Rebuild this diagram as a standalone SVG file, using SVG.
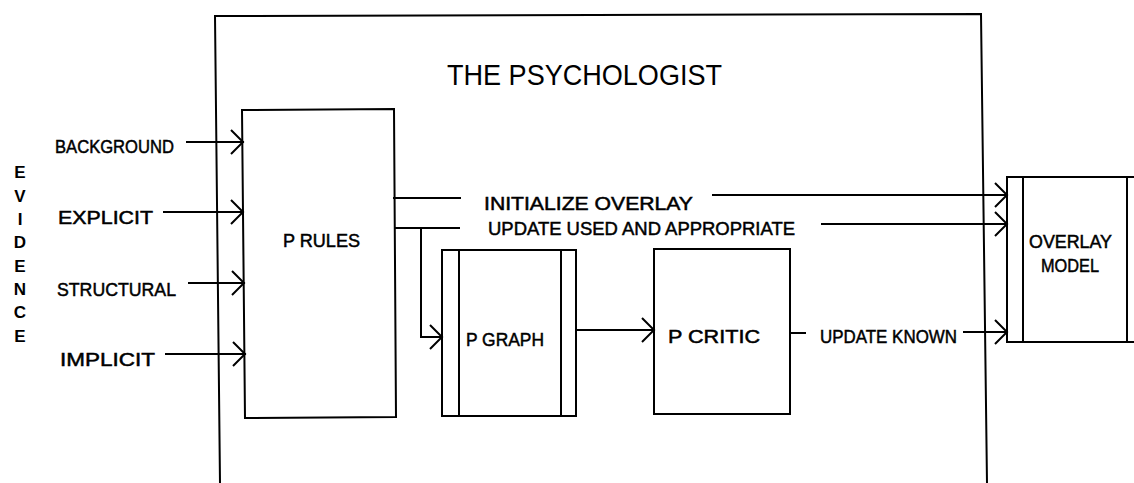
<svg xmlns="http://www.w3.org/2000/svg" width="1134" height="483" viewBox="0 0 1134 483">
  <style>
    .ln { fill: none; stroke: #000; stroke-width: 2; stroke-linecap: square; stroke-linejoin: miter; }
    .box { fill: #fff; stroke: #000; stroke-width: 2; }
    .lbl { font-family: "Liberation Sans", Arial, sans-serif; font-size: 19px; fill: #000; stroke: #000; stroke-width: 0.5; }
    .title { font-family: "Liberation Sans", Arial, sans-serif; font-size: 30px; fill: #000; }
    .ev { font-family: "Liberation Sans", Arial, sans-serif; font-size: 17px; font-weight: bold; fill: #000; text-anchor: middle; }
  </style>
  <defs>
    <marker id="arrow" viewBox="-14 -13 16 26" markerWidth="16" markerHeight="26" refX="0" refY="0" markerUnits="userSpaceOnUse" orient="auto">
      <path d="M -12 -12 L 0 0 L -12 12" fill="none" stroke="#000" stroke-width="2"/>
    </marker>
  </defs>
  <rect width="1134" height="483" fill="#fff"/>

  <!-- enclosing frame of the psychologist module -->
  <g id="psychologist">
    <path class="ln" d="M 220 483 L 215 16 L 981 14 L 987 483"/>
    <text class="title" x="447" y="85" textLength="275" lengthAdjust="spacingAndGlyphs">THE PSYCHOLOGIST</text>
  </g>

  <!-- evidence sources -->
  <g id="evidence">
    <text class="ev" x="20" y="178">E</text>
    <text class="ev" x="20" y="202">V</text>
    <text class="ev" x="20" y="225">I</text>
    <text class="ev" x="20" y="248">D</text>
    <text class="ev" x="20" y="272">E</text>
    <text class="ev" x="20" y="295">N</text>
    <text class="ev" x="20" y="318">C</text>
    <text class="ev" x="20" y="342">E</text>
    <text class="lbl" x="55" y="153" textLength="119" lengthAdjust="spacingAndGlyphs">BACKGROUND</text>
    <text class="lbl" x="58" y="224" textLength="95" lengthAdjust="spacingAndGlyphs">EXPLICIT</text>
    <text class="lbl" x="57" y="296" textLength="119" lengthAdjust="spacingAndGlyphs">STRUCTURAL</text>
    <text class="lbl" x="60" y="366" textLength="95" lengthAdjust="spacingAndGlyphs">IMPLICIT</text>
  </g>

  <g id="p-rules">
    <path class="box" d="M 242 110 L 394 109 L 396 417 L 245 418 Z"/>
    <text class="lbl" x="283" y="247" textLength="77" lengthAdjust="spacingAndGlyphs">P RULES</text>
  </g>

  <g id="p-graph">
    <rect class="box" x="442" y="250" width="134" height="166"/>
    <line class="ln" x1="459" y1="250" x2="459" y2="416"/>
    <line class="ln" x1="561" y1="250" x2="561" y2="416"/>
    <text class="lbl" x="466" y="346" textLength="78" lengthAdjust="spacingAndGlyphs">P GRAPH</text>
  </g>

  <g id="p-critic">
    <rect class="box" x="654" y="249" width="136" height="165"/>
    <text class="lbl" x="668" y="343" textLength="92" lengthAdjust="spacingAndGlyphs">P CRITIC</text>
  </g>

  <g id="overlay-model">
    <path class="ln" d="M 1134 177 L 1007 177 L 1007 342 L 1134 342"/>
    <line class="ln" x1="1023" y1="177" x2="1023" y2="342"/>
    <line class="ln" x1="1127" y1="177" x2="1127" y2="342"/>
    <text class="lbl" x="1029" y="248" textLength="83" lengthAdjust="spacingAndGlyphs">OVERLAY</text>
    <text class="lbl" x="1041" y="272" textLength="58" lengthAdjust="spacingAndGlyphs">MODEL</text>
  </g>

  <g id="connectors">
    <!-- evidence inputs -->
    <line class="ln" x1="187" y1="142" x2="243" y2="142" marker-end="url(#arrow)"/>
    <line class="ln" x1="164" y1="212" x2="243" y2="212" marker-end="url(#arrow)"/>
    <line class="ln" x1="189" y1="283" x2="244" y2="283" marker-end="url(#arrow)"/>
    <line class="ln" x1="166" y1="354" x2="245" y2="354" marker-end="url(#arrow)"/>

    <!-- initialize overlay -->
    <line class="ln" x1="394" y1="198" x2="460" y2="198"/>
    <line class="ln" x1="713" y1="195" x2="1007" y2="195" marker-end="url(#arrow)"/>
    <text class="lbl" x="484" y="210" textLength="209" lengthAdjust="spacingAndGlyphs">INITIALIZE OVERLAY</text>

    <!-- update used and appropriate -->
    <line class="ln" x1="395" y1="228" x2="459" y2="228"/>
    <line class="ln" x1="822" y1="224" x2="1007" y2="224" marker-end="url(#arrow)"/>
    <text class="lbl" x="488" y="235" textLength="307" lengthAdjust="spacingAndGlyphs">UPDATE USED AND APPROPRIATE</text>

    <!-- branch to P GRAPH -->
    <path class="ln" d="M 421 228 L 421 337 L 442 337" marker-end="url(#arrow)"/>

    <!-- P GRAPH to P CRITIC -->
    <line class="ln" x1="576" y1="330" x2="654" y2="330" marker-end="url(#arrow)"/>

    <!-- update known -->
    <line class="ln" x1="790" y1="333" x2="805" y2="333"/>
    <text class="lbl" x="820" y="343" textLength="137" lengthAdjust="spacingAndGlyphs">UPDATE KNOWN</text>
    <line class="ln" x1="964" y1="332" x2="1007" y2="332" marker-end="url(#arrow)"/>
  </g>
</svg>
